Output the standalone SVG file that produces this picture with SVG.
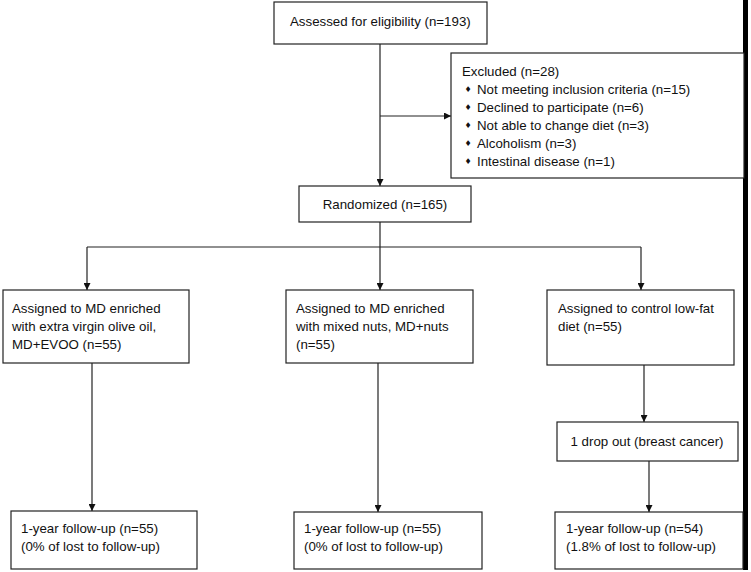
<svg xmlns="http://www.w3.org/2000/svg" width="751" height="572" viewBox="0 0 751 572">
<style>
.box{fill:#fff;stroke:#222;stroke-width:1.2}
.t{font-family:"Liberation Sans",Arial,sans-serif;font-size:13.3px;fill:#111}
.b{font-family:"DejaVu Sans",sans-serif;font-size:8px;fill:#111}
.c{text-anchor:middle}
.ln{stroke:#222;stroke-width:1.2;fill:none}
</style>
<defs>
<marker id="ah" viewBox="0 0 10 10" refX="10" refY="5" markerWidth="7" markerHeight="7" markerUnits="userSpaceOnUse" orient="auto">
<path d="M0,0 L10,5 L0,10 Z" fill="#111"/>
</marker>
</defs>
<rect x="0" y="0" width="751" height="572" fill="#fff"/>
<rect x="743" y="0" width="5" height="570" fill="#000"/>
<g id="connectors">
<path class="ln" d="M380,44 V186" marker-end="url(#ah)"/>
<path class="ln" d="M380,116 H451" marker-end="url(#ah)"/>
<path class="ln" d="M380,222 V247"/>
<path class="ln" d="M87,247 H641"/>
<path class="ln" d="M87,247 V290" marker-end="url(#ah)"/>
<path class="ln" d="M380,247 V290" marker-end="url(#ah)"/>
<path class="ln" d="M641,247 V290" marker-end="url(#ah)"/>
<path class="ln" d="M92,363 V511" marker-end="url(#ah)"/>
<path class="ln" d="M378,363 V512" marker-end="url(#ah)"/>
<path class="ln" d="M644,365 V422" marker-end="url(#ah)"/>
<path class="ln" d="M649,461 V512" marker-end="url(#ah)"/>
</g>
<g id="assessed">
<rect class="box" x="274" y="2" width="213" height="42"/>
<text class="t" x="290" y="26">Assessed for eligibility (n=193)</text>
</g>
<g id="excluded">
<rect class="box" x="451" y="53" width="293" height="125"/>
<text class="t" x="462" y="76">Excluded (n=28)</text>
<text class="b" x="464.5" y="92">♦</text><text class="t" x="477" y="94">Not meeting inclusion criteria (n=15)</text>
<text class="b" x="464.5" y="110">♦</text><text class="t" x="477" y="112">Declined to participate (n=6)</text>
<text class="b" x="464.5" y="128">♦</text><text class="t" x="477" y="130">Not able to change diet (n=3)</text>
<text class="b" x="464.5" y="146">♦</text><text class="t" x="477" y="148">Alcoholism (n=3)</text>
<text class="b" x="464.5" y="164">♦</text><text class="t" x="477" y="166">Intestinal disease (n=1)</text>
</g>
<g id="randomized">
<rect class="box" x="299" y="186" width="172" height="36"/>
<text class="t c" x="385" y="209">Randomized (n=165)</text>
</g>
<g id="evoo">
<rect class="box" x="3" y="290" width="186" height="73"/>
<text class="t" x="12" y="313">Assigned to MD enriched</text>
<text class="t" x="12" y="331">with extra virgin olive oil,</text>
<text class="t" x="12" y="349">MD+EVOO (n=55)</text>
</g>
<g id="nuts">
<rect class="box" x="286" y="290" width="187" height="73"/>
<text class="t" x="296" y="313">Assigned to MD enriched</text>
<text class="t" x="296" y="331">with mixed nuts, MD+nuts</text>
<text class="t" x="296" y="349">(n=55)</text>
</g>
<g id="control">
<rect class="box" x="547" y="290" width="187" height="75"/>
<text class="t" x="558" y="313">Assigned to control low-fat</text>
<text class="t" x="558" y="331">diet (n=55)</text>
</g>
<g id="dropout">
<rect class="box" x="557" y="422" width="181" height="39"/>
<text class="t c" x="647" y="446">1 drop out (breast cancer)</text>
</g>
<g id="fu1">
<rect class="box" x="11" y="511" width="186" height="58"/>
<text class="t" x="21" y="533">1-year follow-up (n=55)</text>
<text class="t" x="21" y="551">(0% of lost to follow-up)</text>
</g>
<g id="fu2">
<rect class="box" x="294" y="512" width="188" height="57"/>
<text class="t" x="304" y="533">1-year follow-up (n=55)</text>
<text class="t" x="304" y="551">(0% of lost to follow-up)</text>
</g>
<g id="fu3">
<rect class="box" x="555" y="512" width="188" height="57"/>
<text class="t" x="566" y="533">1-year follow-up (n=54)</text>
<text class="t" x="566" y="551">(1.8% of lost to follow-up)</text>
</g>
</svg>
